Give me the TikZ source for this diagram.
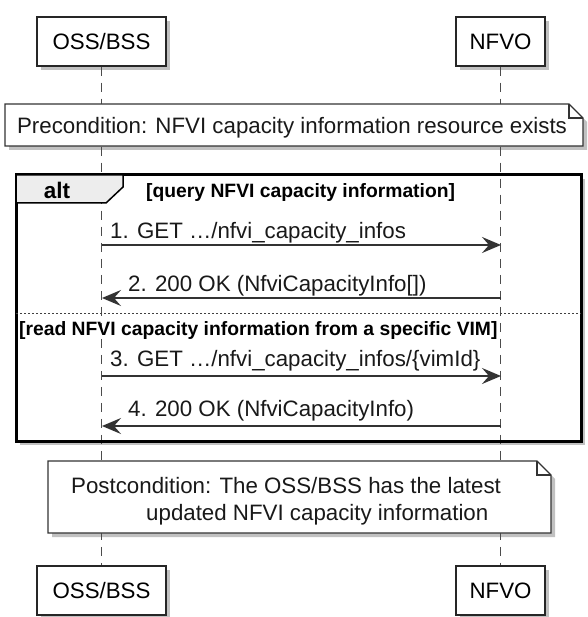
\documentclass[tikz,border=0pt]{standalone}
\usepackage{fontspec}
\setmainfont{Liberation Sans}
\usetikzlibrary{arrows.meta,shadows}

\begin{document}
\begin{tikzpicture}[x=1pt, y=-1pt, font=\fontsize{22.3pt}{26pt}\selectfont,
    shade/.style={drop shadow={shadow xshift=4pt, shadow yshift=-4pt, opacity=.35, fill=black!70}},
    actor/.style={draw=black!85, line width=1.5pt, fill=white, minimum height=49pt, inner sep=0pt, shade},
    note/.style={draw=black!80, line width=1.3pt, fill=white, shade},
    lifeline/.style={draw=black!70, line width=1pt, dash pattern=on 9pt off 7pt},
    msg/.style={draw=black!80, line width=1.5pt, -{Stealth[length=19pt, width=16pt, inset=7pt]}},
    lbl/.style={anchor=base west, inner sep=0pt, text=black!90},
    cond/.style={anchor=base west, inner sep=0pt, font=\fontsize{19.3pt}{22pt}\selectfont\bfseries}]
    \useasboundingbox (0,0) rectangle (587,617);

    \node[actor, minimum width=129pt] (ossT)  at (101.5,41.5)  {OSS/BSS};
    \node[actor, minimum width=89pt]  (nfvoT) at (500.5,41.5)  {NFVO};
    \node[actor, minimum width=129pt] (ossB)  at (101.5,590.5) {OSS/BSS};
    \node[actor, minimum width=89pt]  (nfvoB) at (500.5,590.5) {NFVO};

    % alt frame
    \fill[white, shade] (16,175) rectangle (581,441);
    \draw[lifeline] (ossT.south) -- (ossB.north);
    \draw[lifeline] (nfvoT.south) -- (nfvoB.north);
    \draw[black, line width=3pt] (16,175) rectangle (581,441);
    \filldraw[draw=black, fill=black!7, line width=1.5pt]
        (16,175) -- (123,175) -- (123,187) -- (106,203) -- (16,203) -- cycle;
    \node[anchor=base, inner sep=0pt, font=\fontsize{22.5pt}{26pt}\selectfont\bfseries] (alt) at (57,199) {alt};
    \node[cond] (c1) at (146,198) {[query NFVI capacity information]};
    \draw[black!75, line width=1pt, dash pattern=on 2pt off 2pt] (16,313) -- (581,313);
    \node[cond] (c2) at (19,335) {[read NFVI capacity information from a specific VIM]};

    % notes
    \filldraw[note] (5,104) -- (569,104) -- (583,118) -- (583,146) -- (5,146) -- cycle;
    \draw[black!80, line width=1.3pt] (569,104) -- (569,118) -- (583,118);
    \node[anchor=base, inner sep=0pt, text=black!90] (pre) at (292,134) {Precondition: NFVI capacity information resource exists};
    \filldraw[note] (48,461) -- (537,461) -- (551,475) -- (551,533) -- (48,533) -- cycle;
    \draw[black!80, line width=1.3pt] (537,461) -- (537,475) -- (551,475);
    \node[lbl] (post1) at (71,493) {Postcondition: The OSS/BSS has the latest};
    \node[lbl] (post2) at (146,520) {updated NFVI capacity information};

    % messages
    \coordinate (o1) at (102,245); \coordinate (n1) at (501,245);
    \coordinate (o2) at (102,298); \coordinate (n2) at (501,298);
    \coordinate (o3) at (102,376); \coordinate (n3) at (501,376);
    \coordinate (o4) at (102,426); \coordinate (n4) at (501,426);
    \draw[msg] (o1) -- (n1);
    \draw[msg] (n2) -- (o2);
    \draw[msg] (o3) -- (n3);
    \draw[msg] (n4) -- (o4);
    \node[lbl] (m1) at (110,238) {1. GET …/nfvi\_capacity\_infos};
    \node[lbl] (m2) at (128,291) {2. 200 OK (NfviCapacityInfo[])};
    \node[lbl] (m3) at (110,366) {3. GET …/nfvi\_capacity\_infos/\{vimId\}};
    \node[lbl] (m4) at (128,416) {4. 200 OK (NfviCapacityInfo)};
\end{tikzpicture}
\end{document}
